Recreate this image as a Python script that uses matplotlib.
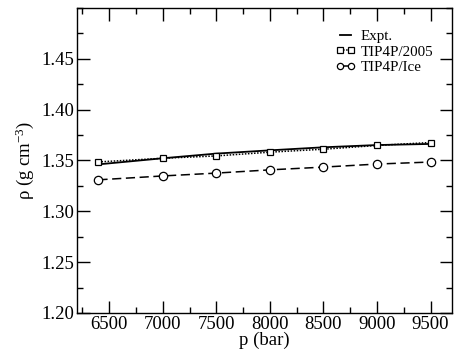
import matplotlib
matplotlib.use("Agg")
import matplotlib.pyplot as plt
from matplotlib.ticker import MultipleLocator, FixedLocator

plt.rcParams['font.family'] = ['Liberation Serif', 'DejaVu Serif']
plt.rcParams['mathtext.fontset'] = 'custom'
plt.rcParams['mathtext.rm'] = 'Liberation Serif'
plt.rcParams['mathtext.it'] = 'Liberation Serif:italic'

# Data
p_expt = [6400, 7000, 7500, 8000, 8500, 9000, 9500]
rho_expt = [1.3462, 1.3522, 1.3568, 1.3600, 1.3630, 1.3652, 1.3663]

p_sim = [6400, 7000, 7500, 8000, 8500, 9000, 9500]
rho_2005 = [1.3486, 1.3522, 1.3545, 1.3582, 1.3611, 1.3648, 1.3677]
rho_ice = [1.3310, 1.3348, 1.3376, 1.3408, 1.3435, 1.3465, 1.3485]

x_ticks = [6500, 7000, 7500, 8000, 8500, 9000, 9500]
y_ticks = [1.20, 1.25, 1.30, 1.35, 1.40, 1.45]

fig = plt.figure(figsize=(4.56, 3.53), dpi=100)
ax = fig.add_axes([77/456, 1-313/353, 375/456, 305/353])

ax.plot(p_expt, rho_expt, color='black', lw=1.3, label='Expt.')
ax.plot(p_sim, rho_2005, color='black', lw=1.1, linestyle=(0, (1, 1)),
        marker='s', ms=5, mfc='white', mec='black', mew=0.9, label='TIP4P/2005')
ax.plot(p_sim, rho_ice, color='black', lw=1.1, linestyle=(0, (6, 3)),
        marker='o', ms=6, mfc='white', mec='black', mew=0.9, label='TIP4P/Ice')

ax.set_xlim(6200, 9700)
ax.set_ylim(1.20, 1.50)
ax.xaxis.set_major_locator(FixedLocator(x_ticks))
ax.xaxis.set_minor_locator(MultipleLocator(250))
ax.yaxis.set_major_locator(FixedLocator(y_ticks))
ax.yaxis.set_minor_locator(MultipleLocator(0.025))
ax.set_yticklabels(['%.2f' % v for v in y_ticks])

ax.tick_params(which='both', direction='in', top=True, right=True, labelsize=13.5, pad=2)
ax.tick_params(which='major', length=9, width=1.0)
ax.tick_params(which='minor', length=4.5, width=1.0)
for s in ax.spines.values():
    s.set_linewidth(1.0)

ax.set_xlabel('p (bar)', fontsize=13.5, labelpad=-1)
ax.set_ylabel(r'ρ (g cm$^{-3}$)', fontsize=13.5, labelpad=4)

leg = ax.legend(loc='upper left', bbox_to_anchor=(0.69, 0.93), frameon=False,
                fontsize=10.8, handlelength=1.3, handletextpad=0.35, labelspacing=0.15,
                borderpad=0, borderaxespad=0, numpoints=2)
for h in leg.legend_handles:
    if h.get_marker() not in (None, 'None', ''):
        h.set_markersize(4.5)

fig.savefig('out.png', dpi=100)
